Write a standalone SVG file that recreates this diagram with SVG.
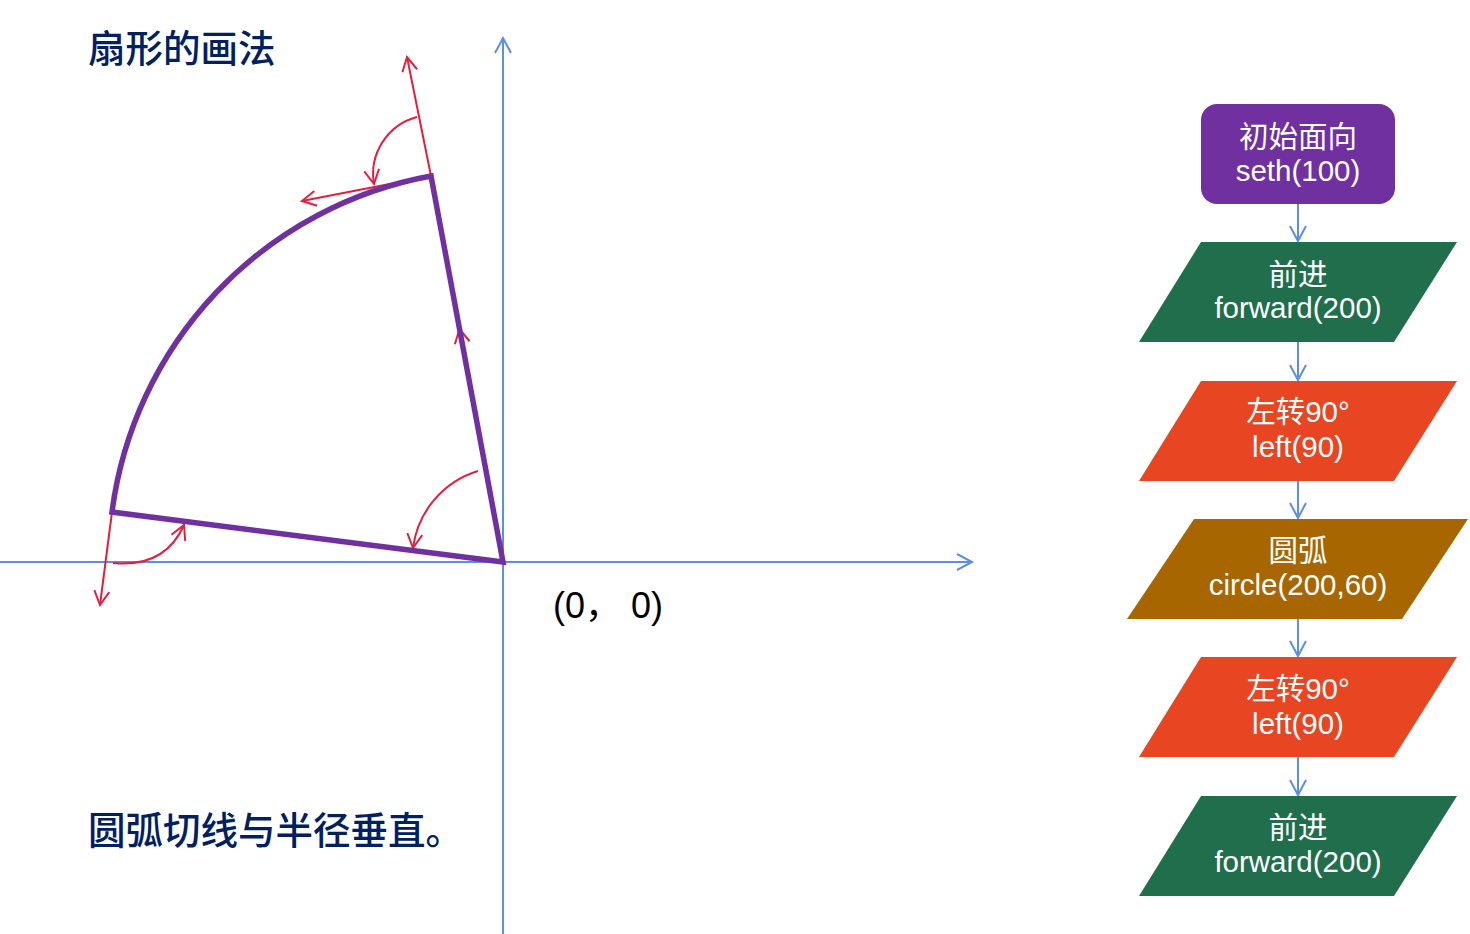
<svg xmlns="http://www.w3.org/2000/svg" width="1470" height="934" viewBox="0 0 1470 934">
<style>
.axis{stroke:#5B8FE3;stroke-width:2;fill:none}
.red{stroke:#E1203F;stroke-width:2;fill:none}
.sector{stroke:#7030A0;stroke-width:5.5;fill:none;stroke-linejoin:miter}
.lbl{font-family:"Noto Sans CJK SC","Liberation Sans",sans-serif;fill:#002060;font-size:37.5px;font-weight:500}
.ntxt{font-family:"Liberation Sans","Noto Sans CJK SC",sans-serif;fill:#FFFFFF;font-size:29.5px;text-anchor:middle}
.conn{stroke:#5B8FE3;stroke-width:2;fill:none}
</style>
<defs>
<marker id="ab" markerUnits="userSpaceOnUse" viewBox="-20 -12 24 24" markerWidth="24" markerHeight="24" refX="0" refY="0" orient="auto">
<path d="M-15,-8 L0,0 L-15,8" fill="none" stroke="#5B8FE3" stroke-width="2"/>
</marker>
<marker id="ar" markerUnits="userSpaceOnUse" viewBox="-20 -12 24 24" markerWidth="24" markerHeight="24" refX="0" refY="0" orient="auto">
<path d="M-14,-7.5 L0,0 L-14,7.5" fill="none" stroke="#E1203F" stroke-width="2"/>
</marker>
</defs>
<rect width="1470" height="934" fill="#FFFFFF"/>
<g id="axes">
<path class="axis" d="M0,562 H972" marker-end="url(#ab)"/>
<path class="axis" d="M503,934 V38" marker-end="url(#ab)"/>
</g>
<g id="red-arrows">
<path class="red" d="M431,176 L407,57" marker-end="url(#ar)"/>
<path class="red" d="M431,176 L302,201" marker-end="url(#ar)"/>
<path class="red" d="M417,117 A59,59 0 0,0 374,184" marker-end="url(#ar)"/>
<path class="red" d="M461.5,339 L459.5,329" marker-end="url(#ar)"/>
<path class="red" d="M478,471 A93,93 0 0,0 413,548" marker-end="url(#ar)"/>
<path class="red" d="M112,512 L100,605" marker-end="url(#ar)"/>
<path class="red" d="M113,563 Q165,568 184,525" marker-end="url(#ar)"/>
</g>
<g id="sector">
<path class="sector" d="M503,562 L431,176 A393,393 0 0,0 112,512 Z"/>
</g>
<text class="lbl" x="88" y="62">扇形的画法</text>
<text class="lbl" x="88" y="844">圆弧切线与半径垂直。</text>
<text x="553" y="618" font-family="'Liberation Sans','Noto Sans CJK SC',sans-serif" font-size="36" fill="#000000">(0， 0)</text>
<g id="connectors">
<path class="conn" d="M1298,204 V241" marker-end="url(#ab)"/>
<path class="conn" d="M1298,342 V380" marker-end="url(#ab)"/>
<path class="conn" d="M1298,481 V518" marker-end="url(#ab)"/>
<path class="conn" d="M1298,619 V656" marker-end="url(#ab)"/>
<path class="conn" d="M1298,757 V795" marker-end="url(#ab)"/>
</g>
<g id="n1">
<rect x="1201" y="104" width="194" height="100" rx="16" fill="#7030A0"/>
<text class="ntxt" x="1298" y="147">初始面向</text>
<text class="ntxt" x="1298" y="181">seth(100)</text>
</g>
<g id="n2">
<polygon points="1201,242 1457,242 1394,342 1139,342" fill="#216E4C"/>
<text class="ntxt" x="1298" y="285">前进</text>
<text class="ntxt" x="1298" y="318">forward(200)</text>
</g>
<g id="n3">
<polygon points="1201,381 1457,381 1394,481 1139,481" fill="#E84522"/>
<text class="ntxt" x="1298" y="422">左转90°</text>
<text class="ntxt" x="1298" y="457">left(90)</text>
</g>
<g id="n4">
<polygon points="1194,519 1468,519 1402,619 1127,619" fill="#A86600"/>
<text class="ntxt" x="1298" y="561">圆弧</text>
<text class="ntxt" x="1298" y="595">circle(200,60)</text>
</g>
<g id="n5">
<polygon points="1201,657 1457,657 1394,757 1139,757" fill="#E84522"/>
<text class="ntxt" x="1298" y="699">左转90°</text>
<text class="ntxt" x="1298" y="734">left(90)</text>
</g>
<g id="n6">
<polygon points="1201,796 1457,796 1394,896 1139,896" fill="#216E4C"/>
<text class="ntxt" x="1298" y="838">前进</text>
<text class="ntxt" x="1298" y="872">forward(200)</text>
</g>
</svg>
